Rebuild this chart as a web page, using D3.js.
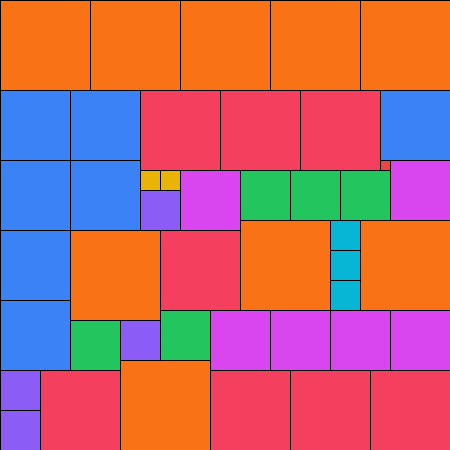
<!DOCTYPE html>
<html>
<head>
<meta charset="utf-8">
<script src="https://cdn.jsdelivr.net/npm/d3@7"></script>
<style>
  html, body { margin: 0; padding: 0; background: #fff; }
</style>
</head>
<body>
<div id="chart"></div>
<script>
// n squares of side n, for n = 1..9 -> tiles a 45x45 square
const sizes  = [9, 8, 7, 6, 5, 4, 3, 2, 1];
const colors = ["#f97316", "#f43f5e", "#3b82f6", "#d946ef", "#22c55e",
                "#8b5cf6", "#06b6d4", "#eab308", "#ef4444"];

// order the squares are dropped into the skyline packer
const order = [9, 9, 9, 9, 9, 7, 7, 8, 8, 8, 7, 7, 7, 1, 6, 2, 2, 6, 5, 5, 5, 4,
               9, 3, 9, 7, 9, 8, 3, 3, 7, 5, 6, 6, 6, 6, 5, 4, 9, 4, 8, 8, 8, 8, 4];

const side = d3.sum(sizes, d => d * d * d) ** 0.5; // 45
const width = 450, height = 450;

const x = d3.scaleLinear().domain([0, side]).range([0, width]);
const y = d3.scaleLinear().domain([0, side]).range([0, height]);
const color = d3.scaleOrdinal().domain(sizes).range(colors);

// skyline packing: lowest top, then leftmost
function pack(list, W) {
    const sky = new Array(W).fill(0);
    return list.map(s => {
        let best = null;
        for (let i = 0; i + s <= W; i++) {
            if (i > 0 && sky[i] === sky[i - 1]) continue;
            const top = d3.max(sky.slice(i, i + s));
            if (!best || top < best.y) best = { x: i, y: top };
        }
        for (let i = best.x; i < best.x + s; i++) sky[i] = best.y + s;
        return { size: s, x: best.x, y: best.y };
    });
}

const tiles = pack(order, side);

const svg = d3.select("#chart")
              .append("svg")
              .attr("width", width)
              .attr("height", height)
              .attr("viewBox", `0 0 ${width} ${height}`);

svg.append("g")
   .attr("transform", "translate(0.5,0.5)")
   .selectAll("rect")
   .data(tiles)
   .join("rect")
   .attr("x", d => x(d.x))
   .attr("y", d => y(d.y))
   .attr("width", d => x(d.size) - x(0))
   .attr("height", d => y(d.size) - y(0))
   .attr("fill", d => color(d.size))
   .attr("stroke", "#000")
   .attr("stroke-width", 1);
</script>
</body>
</html>
